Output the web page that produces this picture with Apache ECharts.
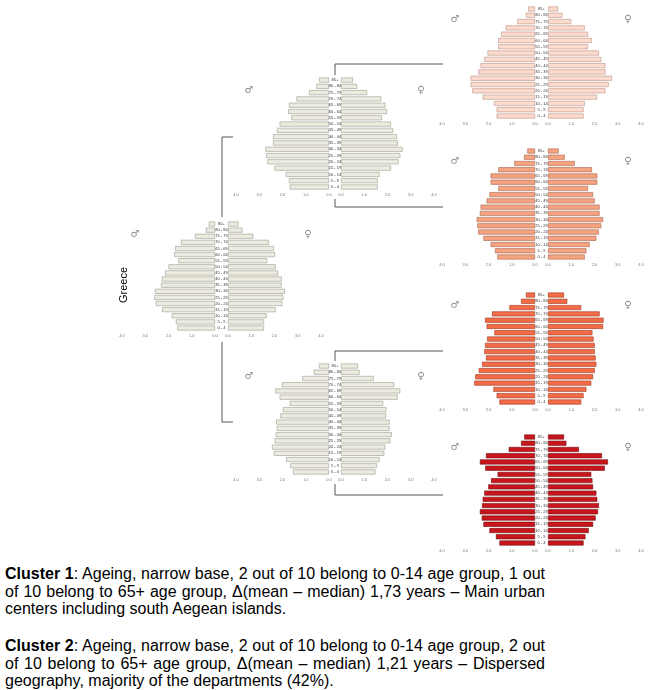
<!DOCTYPE html>
<html>
<head>
<meta charset="utf-8">
<script src="https://cdn.jsdelivr.net/npm/echarts/dist/echarts.min.js"></script>
<style>
  html, body { margin: 0; padding: 0; background: #fff; overflow: hidden; width: 655px; height: 690px; }
  #pyramids { position: absolute; left: 0; top: 0; width: 655px; height: 560px; }
  .notes { position: absolute; left: 5px; top: 565px; width: 540px; font: 16px/17.5px "Liberation Sans", Arial, sans-serif; text-align: justify; color: #000; }
  .notes p { margin: 0 0 19.5px 0; }
</style>
</head>
<body>
<div id="pyramids"></div>
<div class="notes">
  <p><b>Cluster 1</b>: Ageing, narrow base, 2 out of 10 belong to 0-14 age group, 1 out of 10 belong to 65+ age group, Δ(mean – median) 1,73 years – Main urban centers including south Aegean islands.</p>
  <p><b>Cluster 2</b>: Ageing, narrow base, 2 out of 10 belong to 0-14 age group, 2 out of 10 belong to 65+ age group, Δ(mean – median) 1,21 years – Dispersed geography, majority of the departments (42%).</p>
</div>
<script>
// age groups, youngest first (bottom of each pyramid)
const ageGroups = ["0 - 4", "5 - 9", "10 - 14", "15 - 19", "20 - 24", "25 - 29", "30 - 34", "35 - 39", "40 - 44",
  "45 - 49", "50 - 54", "55 - 59", "60 - 64", "65 - 69", "70 - 74", "75 - 79", "80 - 84", "85+"];
const tickLabels = ["0.0", "1.0", "2.0", "3.0", "4.0"];

const greeceMale = [1.62, 1.68, 1.86, 2.27, 2.55, 2.61, 2.58, 2.32, 2.29, 2.15, 2.00, 1.58, 1.75, 1.72, 1.46, 0.86, 0.39, 0.27];
const greeceFemale = [1.55, 1.55, 1.66, 2.05, 2.34, 2.38, 2.45, 2.31, 2.31, 2.15, 2.05, 1.69, 2.02, 1.98, 1.76, 1.09, 0.62, 0.45];

const branchAMale = [1.69, 1.72, 1.86, 2.34, 2.65, 2.70, 2.74, 2.41, 2.41, 2.24, 2.12, 1.62, 1.76, 1.72, 1.40, 0.86, 0.54, 0.43];
const branchAFemale = [1.58, 1.58, 1.66, 2.15, 2.48, 2.55, 2.65, 2.45, 2.41, 2.24, 2.15, 1.76, 1.98, 1.91, 1.73, 1.12, 0.69, 0.52];

const branchBMale = [1.55, 1.66, 1.84, 2.37, 2.45, 2.34, 2.29, 2.24, 2.27, 2.09, 1.98, 1.69, 2.12, 2.31, 2.02, 1.15, 0.65, 0.43];
const branchBFemale = [1.48, 1.55, 1.66, 1.86, 1.91, 2.12, 2.19, 2.09, 2.09, 1.94, 1.95, 1.81, 2.44, 2.55, 2.29, 1.41, 0.80, 0.72];

const cluster1Male = [1.65, 1.65, 1.76, 2.25, 2.70, 2.77, 2.77, 2.44, 2.34, 2.18, 2.04, 1.58, 1.58, 1.46, 1.26, 0.76, 0.39, 0.29];
const cluster1Female = [1.53, 1.53, 1.58, 2.11, 2.47, 2.61, 2.75, 2.47, 2.47, 2.29, 2.19, 1.72, 1.89, 1.72, 1.58, 1.00, 0.62, 0.43];

const cluster2Male = [1.62, 1.72, 1.91, 2.22, 2.44, 2.48, 2.51, 2.37, 2.34, 2.08, 1.96, 1.58, 1.91, 1.91, 1.58, 0.90, 0.47, 0.33];
const cluster2Female = [1.58, 1.65, 1.79, 2.08, 2.19, 2.29, 2.37, 2.22, 2.22, 2.01, 1.94, 1.72, 2.12, 2.12, 1.89, 1.15, 0.72, 0.46];

const cluster3Male = [1.53, 1.65, 1.79, 2.61, 2.57, 2.42, 2.28, 2.11, 2.18, 2.15, 2.06, 1.75, 2.08, 2.15, 1.85, 1.10, 0.60, 0.39];
const cluster3Female = [1.43, 1.53, 1.65, 1.86, 1.94, 2.01, 2.08, 2.05, 2.01, 2.01, 1.96, 1.91, 2.37, 2.39, 2.22, 1.43, 0.83, 0.69];

const cluster4Male = [1.53, 1.68, 1.96, 2.22, 2.29, 2.37, 2.28, 2.25, 2.18, 2.01, 1.89, 1.61, 2.14, 2.37, 2.11, 1.13, 0.60, 0.46];
const cluster4Female = [1.53, 1.61, 1.75, 1.94, 2.05, 2.15, 2.19, 2.12, 2.08, 1.94, 1.91, 1.86, 2.44, 2.58, 2.32, 1.33, 0.79, 0.69];

// where each pyramid sits: mR = inner edge of male bars, fL = inner edge of female bars
const HALF = 93;
const pyramids = [
  { male: greeceMale, female: greeceFemale, mR: 215, fL: 228, yTop: 224, yBot: 328, fill: "#ecebdf", border: "#9e9c90" },
  { male: branchAMale, female: branchAFemale, mR: 329, fL: 341, yTop: 80, yBot: 187, fill: "#ecebdf", border: "#9e9c90" },
  { male: branchBMale, female: branchBFemale, mR: 329, fL: 341, yTop: 366, yBot: 472, fill: "#ecebdf", border: "#9e9c90" },
  { male: cluster1Male, female: cluster1Female, mR: 535, fL: 548, yTop: 9, yBot: 116, fill: "#fcdacd", border: "#b89484" },
  { male: cluster2Male, female: cluster2Female, mR: 535, fL: 548, yTop: 151, yBot: 257, fill: "#f6a381", border: "#a8674f" },
  { male: cluster3Male, female: cluster3Female, mR: 535, fL: 548, yTop: 295, yBot: 402, fill: "#f36c47", border: "#9e3b25" },
  { male: cluster4Male, female: cluster4Female, mR: 535, fL: 548, yTop: 437, yBot: 543, fill: "#c9161c", border: "#6e0b0e" }
];

const grid = [];
const xAxis = [];
const yAxis = [];
const series = [];
const graphic = [];

pyramids.forEach((p, k) => {
  const band = (p.yBot - p.yTop) / 17;
  const top = p.yTop - band / 2;
  const height = band * 18;
  grid.push({ left: p.mR - HALF, width: HALF, top: top, height: height });
  grid.push({ left: p.fL, width: HALF, top: top, height: height });
  [0, 1].forEach(side => {
    const gi = k * 2 + side;
    xAxis.push({
      gridIndex: gi,
      type: "value",
      min: 0,
      max: 4,
      interval: 1,
      inverse: side === 0,
      axisLine: { show: false },
      axisTick: { show: false },
      splitLine: { show: false },
      axisLabel: {
        fontSize: 4,
        color: "#777",
        margin: 3,
        formatter: v => tickLabels[Math.round(v)]
      }
    });
    yAxis.push({
      gridIndex: gi,
      type: "category",
      data: ageGroups,
      position: "right",
      axisLine: { show: false },
      axisTick: { show: false },
      axisLabel: {
        show: side === 0,
        interval: 0,
        fontSize: 4,
        color: "#333",
        align: "center",
        margin: (p.fL - p.mR) / 2
      }
    });
    series.push({
      type: "bar",
      xAxisIndex: gi,
      yAxisIndex: gi,
      data: side === 0 ? p.male : p.female,
      barWidth: 5,
      silent: true,
      itemStyle: { color: p.fill, borderColor: p.border, borderWidth: 0.6 }
    });
  });
  graphic.push(
    { type: "text", x: p.mR - 80, y: p.yTop + 10, style: { text: "♂", font: "10px 'DejaVu Sans'", fill: "#8a8a8a", align: "center", verticalAlign: "middle" } },
    { type: "text", x: p.fL + 80, y: p.yTop + 10, style: { text: "♀", font: "10px 'DejaVu Sans'", fill: "#8a8a8a", align: "center", verticalAlign: "middle" } }
  );
});

// tree connectors
const connectors = [
  [[222, 137], [222, 217]], [[222, 342], [222, 422]], [[222, 137], [233, 137]], [[222, 422], [233, 422]],
  [[335, 64], [335, 75]], [[335, 199], [335, 207]], [[335, 64], [443, 64]], [[335, 207], [443, 207]],
  [[335, 351], [335, 361]], [[335, 484], [335, 495]], [[335, 351], [443, 351]], [[335, 495], [443, 495]]
];
connectors.forEach(c => {
  graphic.push({
    type: "line",
    shape: { x1: c[0][0], y1: c[0][1], x2: c[1][0], y2: c[1][1] },
    style: { stroke: "#555", lineWidth: 1 }
  });
});

graphic.push({
  type: "text",
  x: 124,
  y: 285,
  rotation: Math.PI / 2,
  style: { text: "Greece", font: "11px 'Liberation Sans', Arial", fill: "#000", align: "center", verticalAlign: "middle" }
});

const chartDom = echarts.init(document.getElementById("pyramids"));
chartDom.setOption({
  animation: false,
  grid,
  xAxis,
  yAxis,
  series,
  graphic
});
</script>
</body>
</html>
